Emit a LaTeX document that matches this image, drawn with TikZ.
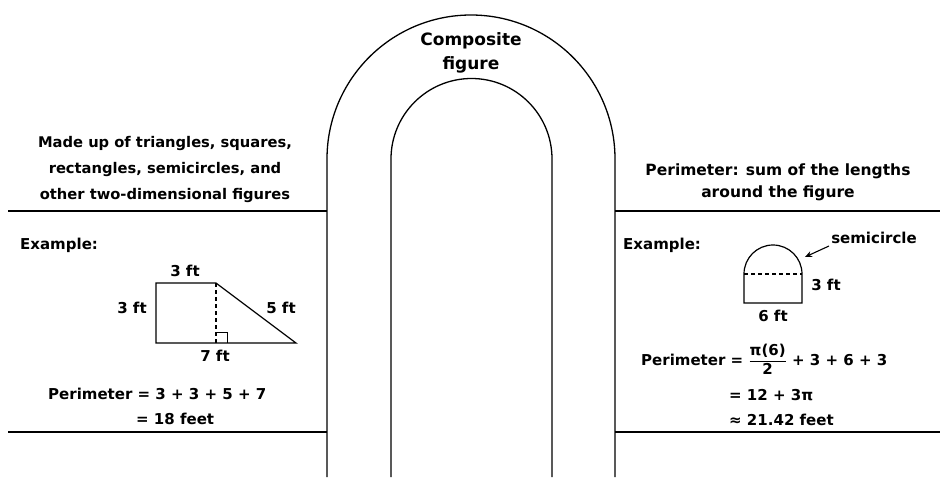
\documentclass[tikz,border=0pt]{standalone}
\usepackage{fontspec}
\usepackage{amsmath}
\setmainfont{DejaVu Sans}
\usetikzlibrary{arrows.meta}
\begin{document}
\begin{tikzpicture}[x=1pt,y=-1pt,
  rule/.style={line width=1.3pt},
  fig/.style={line width=1.2pt},
  txt/.style={font=\fontsize{14.7}{26}\selectfont\bfseries, inner sep=0pt, align=center},
  lbl/.style={font=\fontsize{15}{18}\selectfont\bfseries, inner sep=0pt}]
\useasboundingbox (0,0) rectangle (940,477);
% arch
\draw[rule] (327,477) -- (327,159) arc (180:0:144pt) -- (615,477);
\draw[rule] (391,477) -- (391,159) arc (180:0:80.5pt) -- (552,477);
% horizontal rules
\draw[rule] (8,211) -- (327,211);
\draw[rule] (8,432) -- (327,432);
\draw[rule] (615,211) -- (940,211);
\draw[rule] (615,432) -- (940,432);
% title
\node[txt, font=\fontsize{17}{24}\selectfont\bfseries] (title) at (471,53) {Composite\\figure};
% left text
\node[txt] (lefthead) at (165,169) {Made up of triangles, squares,\\rectangles, semicircles, and\\other two-dimensional figures};
\node[lbl, anchor=west] (lex) at (20,245) {Example:};
% trapezoid
\coordinate (tl) at (156,283);
\coordinate (tr) at (216,283);
\coordinate (bl) at (156,343);
\coordinate (br) at (296,343);
\coordinate (foot) at (216,343);
\draw[fig] (bl) -- (tl) -- (tr) -- (br) -- cycle;
\draw[fig, dashed, dash pattern=on 4pt off 3pt] (tr) -- (foot);
\draw[line width=1pt] (216,332) -- (227,332) -- (227,343);
\node[lbl] (ltop) at (185,271) {3 ft};
\node[lbl] (lleft) at (132,308) {3 ft};
\node[lbl] (lslant) at (281,308) {5 ft};
\node[lbl] (lbot) at (215,356) {7 ft};
\node[lbl, anchor=base west] (lper1) at (48,399) {Perimeter = 3 + 3 + 5 + 7};
\node[lbl, anchor=base west] (lper2) at (136,424) {= 18 feet};
% right text
\node[txt, font=\fontsize{15.5}{22}\selectfont\bfseries] (righthead) at (778,182) {Perimeter: sum of the lengths\\around the figure};
\node[lbl, anchor=west] (rex) at (623,245) {Example:};
% semicircle shape
\coordinate (sbl) at (744,303);
\coordinate (sml) at (744,274);
\coordinate (smr) at (802,274);
\coordinate (sbr) at (802,303);
\draw[fig] (sbl) -- (sml) arc (180:0:29pt) -- (sbr) -- cycle;
\draw[fig, dashed, dash pattern=on 4pt off 3pt] (sml) -- (smr);
\node[lbl] (r3) at (826,285) {3 ft};
\node[lbl] (r6) at (773,316) {6 ft};
\node[lbl] (semi) at (874,238) {semicircle};
\coordinate (sa) at (829,246);
\coordinate (sb) at (805,257);
\draw[line width=1.1pt, -{Stealth[length=7pt,width=6pt]}] (sa) -- (sb);
\node[lbl, anchor=base west] (rper1) at (641,365) {Perimeter = $\dfrac{\text{π(6)}}{\text{2}}$ + 3 + 6 + 3};
\node[lbl, anchor=base west] (rper2) at (729,400) {= 12 + 3π};
\node[lbl, anchor=base west] (rper3) at (729,425) {≈ 21.42 feet};
\end{tikzpicture}
\end{document}
